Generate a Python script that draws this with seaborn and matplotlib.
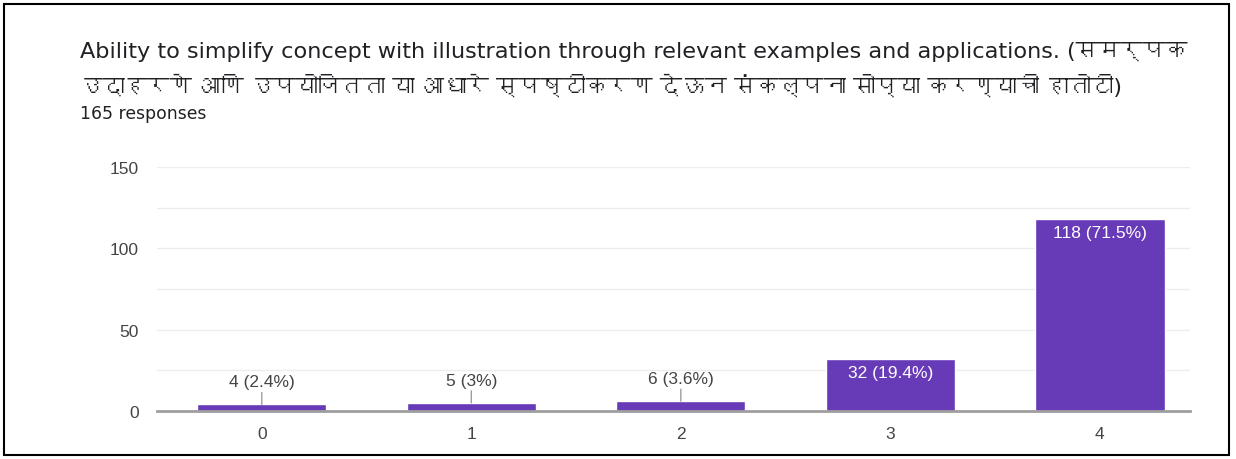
import numpy as np
import pandas as pd
import matplotlib
matplotlib.use("Agg")
import matplotlib.pyplot as plt
import seaborn as sns
from matplotlib import font_manager
from matplotlib.patches import Rectangle

# ---- data ----
categories = ["0", "1", "2", "3", "4"]
counts = [4, 5, 6, 32, 118]
percents = ["2.4%", "3%", "3.6%", "19.4%", "71.5%"]
title_latin = "Ability to simplify concept with illustration through relevant examples and applications."
title_line1 = title_latin + " (समर्पक"
title_line2 = "उदाहरणे आणि उपयोजितता या आधारे स्पष्टीकरण देऊन संकल्पना सोप्या करण्याची हातोटी)"
subtitle = "165 responses"
yticks = [0, 50, 100, 150]

sns.set_theme(style="white")

# find a font with Devanagari coverage, if any
deva_family = None
for f in sorted(font_manager.findSystemFonts()):
    try:
        ft = matplotlib.ft2font.FT2Font(f)
        cmap = ft.get_charmap()
        if 0x0915 in cmap:
            deva_family = font_manager.FontProperties(fname=f).get_name()
            break
    except Exception:
        pass

title_fam = ["DejaVu Sans"] + ([deva_family] if deva_family else [])
plt.rcParams["font.family"] = ["Liberation Sans", "DejaVu Sans"]

df = pd.DataFrame({"cat": categories, "count": counts})

W, H = 1236, 460
fig = plt.figure(figsize=(W / 100, H / 100), dpi=100)
ax = fig.add_axes([157 / W, 1 - 412 / H, (1190 - 157) / W, (412 - 168) / H])

sns.barplot(data=df, x="cat", y="count", color="#673AB7", saturation=1,
            width=0.617, ax=ax, zorder=3)

ax.set_ylim(0, 150)
ax.set_xlim(-0.5, 4.43)
ax.set_yticks(yticks)
for v in range(0, 151, 25):
    ax.axhline(v, color="#ededed", lw=1, zorder=0)
ax.set_xlabel("")
ax.set_ylabel("")
for s in ["top", "right", "left"]:
    ax.spines[s].set_visible(False)
ax.spines["bottom"].set_color("#9e9e9e")
ax.spines["bottom"].set_linewidth(2)
ax.spines["bottom"].set_zorder(4)
ax.tick_params(axis="x", length=0, labelsize=12.5, colors="#444444", pad=11)
ax.tick_params(axis="y", length=0, labelsize=12.5, colors="#444444", pad=13)

for i, (c, p) in enumerate(zip(counts, percents)):
    label = f"{c} ({p})"
    if c > 20:
        ax.annotate(label, (i, c), xytext=(0, -4), textcoords="offset points",
                    ha="center", va="top", color="white", fontsize=12.5, zorder=5)
    else:
        ax.annotate(label, (i, c), xytext=(0, 11), textcoords="offset points",
                    ha="center", va="bottom", color="#444444", fontsize=12.5,
                    arrowprops=dict(arrowstyle="-", color="#9e9e9e", lw=1,
                                    shrinkA=0, shrinkB=0), zorder=5)

renderer = fig.canvas.get_renderer()

def width_px(s, size, fam):
    t = fig.text(0, 0, s, fontsize=size, family=fam)
    w = t.get_window_extent(renderer).width
    t.remove()
    return w

# size title so that the latin part spans like the reference
base = 14
wl = width_px(title_latin, base, title_fam)
size1 = base * 985 / wl
w1 = width_px(title_line1, size1, title_fam)
if 80 + w1 > 1190:
    size1 = size1 * (1110 / w1)
w2 = width_px(title_line2, size1, title_fam)
size2 = size1 if 80 + w2 <= 1190 else size1 * (1110 / w2)

ws = width_px(subtitle, 10, title_fam)
size_sub = 10 * 125 / ws

fig.text(80 / W, 1 - 52 / H, title_line1, fontsize=size1, color="#202124",
         ha="left", va="center", family=title_fam)
fig.text(80 / W, 1 - 86 / H, title_line2, fontsize=size2, color="#202124",
         ha="left", va="center", family=title_fam)
fig.text(80 / W, 1 - 114 / H, subtitle, fontsize=size_sub, color="#202124",
         ha="left", va="center", family=title_fam)

fig.patches.append(Rectangle((3.5 / W, 4.5 / H), 1225 / W, 451 / H,
                             transform=fig.transFigure, fill=False,
                             edgecolor="black", lw=1.5))

fig.savefig("out.png", dpi=100)
